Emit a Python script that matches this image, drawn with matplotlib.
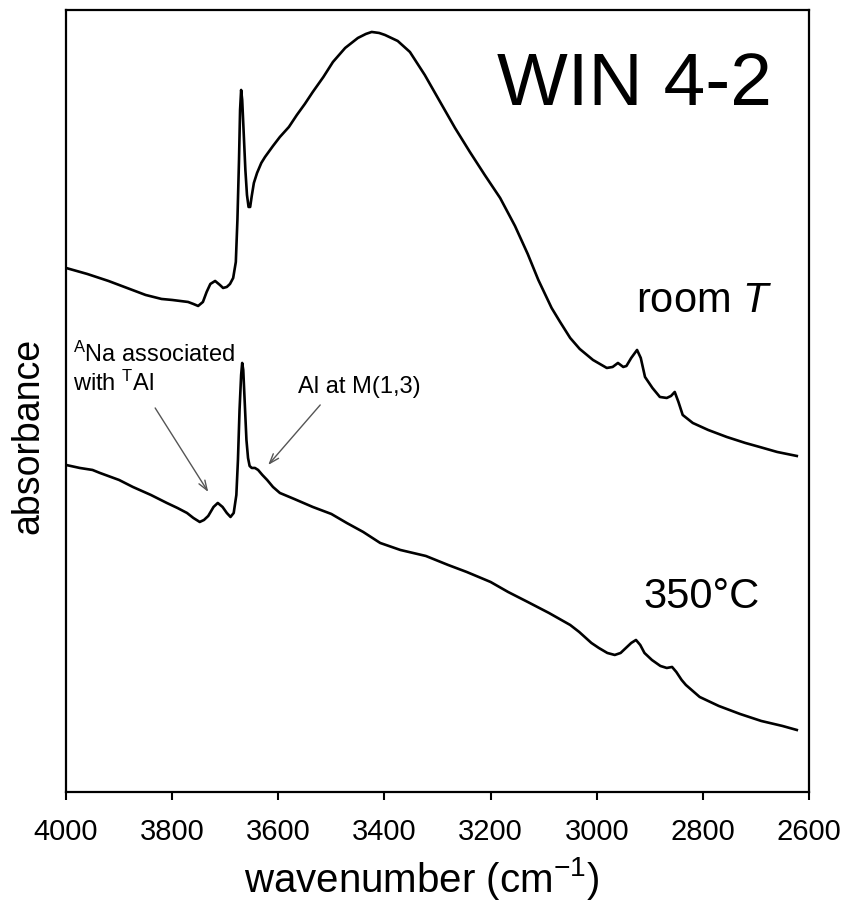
import numpy as np
import matplotlib
matplotlib.use("Agg")
import matplotlib.pyplot as plt

plt.rcParams["font.family"] = ["Liberation Sans", "DejaVu Sans"]
plt.rcParams["mathtext.fontset"] = "custom"
plt.rcParams["mathtext.rm"] = "Liberation Sans"
plt.rcParams["mathtext.it"] = "Liberation Sans:italic"

### DATA (absorbance in arbitrary units)
wn_room = [4000, 3960, 3920, 3880, 3850, 3820, 3800, 3785, 3770, 3760, 3751, 3742,
           3735, 3728, 3719, 3710, 3704, 3697, 3691, 3685, 3680, 3677, 3674, 3672,
           3670, 3668, 3665, 3662, 3659, 3656, 3653, 3650, 3646, 3640, 3632, 3625,
           3610, 3597, 3580, 3565, 3550, 3535, 3515, 3497, 3474, 3450, 3435, 3424,
           3410, 3399, 3375, 3352, 3324, 3295, 3267, 3239, 3211, 3182, 3154, 3130,
           3110, 3085, 3069, 3050, 3032, 3007, 2981, 2970, 2960, 2950, 2944, 2935,
           2924, 2917, 2909, 2895, 2881, 2868, 2860, 2853, 2846, 2838, 2819, 2790,
           2755, 2720, 2693, 2660, 2623]
abs_room = [5.24, 5.18, 5.11, 5.03, 4.97, 4.93, 4.92, 4.91, 4.90, 4.88, 4.86, 4.90,
            5.00, 5.08, 5.11, 5.07, 5.04, 5.05, 5.08, 5.14, 5.30, 5.72, 6.32, 6.82,
            7.02, 6.92, 6.57, 6.22, 5.97, 5.85, 5.85, 5.96, 6.09, 6.19, 6.29, 6.35,
            6.46, 6.55, 6.65, 6.77, 6.88, 7.00, 7.15, 7.30, 7.44, 7.54, 7.58, 7.60,
            7.59, 7.57, 7.51, 7.40, 7.17, 6.90, 6.64, 6.40, 6.17, 5.94, 5.66, 5.38,
            5.12, 4.84, 4.70, 4.54, 4.43, 4.32, 4.24, 4.25, 4.29, 4.25, 4.26, 4.34,
            4.42, 4.34, 4.15, 4.04, 3.95, 3.94, 3.96, 4.00, 3.90, 3.77, 3.69, 3.62,
            3.55, 3.49, 3.45, 3.40, 3.36]

wn_350 = [4000, 3974, 3950, 3936, 3900, 3874, 3840, 3810, 3790, 3772, 3760, 3748,
          3740, 3732, 3722, 3714, 3705, 3697, 3690, 3684, 3679, 3676, 3673, 3670,
          3668, 3666, 3663, 3660, 3657, 3654, 3650, 3644, 3638, 3630, 3621, 3610,
          3597, 3570, 3535, 3500, 3471, 3440, 3408, 3370, 3322, 3280, 3245, 3200,
          3167, 3130, 3090, 3050, 3033, 3010, 2996, 2980, 2966, 2955, 2945, 2935,
          2926, 2918, 2910, 2896, 2880, 2868, 2858, 2850, 2840, 2832, 2806, 2770,
          2730, 2690, 2650, 2623]
abs_350 = [3.27, 3.24, 3.22, 3.19, 3.12, 3.05, 2.97, 2.89, 2.84, 2.79, 2.74, 2.70,
           2.72, 2.76, 2.85, 2.89, 2.85, 2.79, 2.75, 2.79, 2.97, 3.32, 3.82, 4.17,
           4.29, 4.22, 3.87, 3.52, 3.34, 3.26, 3.24, 3.24, 3.22, 3.17, 3.12, 3.05,
           2.99, 2.93, 2.85, 2.78, 2.69, 2.60, 2.49, 2.42, 2.36, 2.27, 2.20, 2.10,
           2.00, 1.90, 1.79, 1.67, 1.60, 1.49, 1.44, 1.39, 1.37, 1.39, 1.44, 1.49,
           1.52, 1.47, 1.39, 1.32, 1.26, 1.24, 1.25, 1.20, 1.12, 1.07, 0.95, 0.86,
           0.78, 0.71, 0.66, 0.62]

x_ticks = [4000, 3800, 3600, 3400, 3200, 3000, 2800, 2600]

#PLOT STUFF
lwd = 1.9
fs_tick = 21
fs_lab = 29
fs_cond = 30
fs_note = 17

fig = plt.figure(figsize=(8.45, 9.05), dpi=100)
ax = fig.add_axes([0.0781, 0.1249, 0.8793, 0.8641])

### SPECTRA
ax.plot(wn_room, abs_room, color="black", lw=lwd)
ax.plot(wn_350, abs_350, color="black", lw=lwd)

### AXES MAKEUP
ax.set_xlim(4000, 2600)
ax.set_ylim(0, 7.82)
ax.set_xticks(x_ticks)
ax.set_xticklabels([str(t) for t in x_ticks])
ax.set_yticks([])
ax.tick_params(axis="x", direction="out", length=6, width=1.5, pad=13,
               labelsize=fs_tick)
for sp in ax.spines.values():
    sp.set_linewidth(1.6)

ax.set_xlabel("wavenumber (cm$^{-1}$)", fontsize=fs_lab)
ax.xaxis.set_label_coords(0.478, -0.081)
ax.set_ylabel("absorbance", fontsize=27)
ax.yaxis.set_label_coords(-0.026, 0.455)

### LABELS
ax.text(2670, 6.87, "WIN 4-2", fontsize=54, ha="right", va="baseline")
ax.text(2670, 4.80, "room $\\it{T}$", fontsize=fs_cond, ha="right", va="baseline")
ax.text(2692, 1.84, "350°C", fontsize=fs_cond, ha="right", va="baseline")

### ANNOTATIONS
ax.text(3987, 4.30, "${}^{\\mathrm{A}}$Na associated", fontsize=fs_note,
        ha="left", va="baseline")
ax.text(3987, 4.01, "with ${}^{\\mathrm{T}}$Al", fontsize=fs_note,
        ha="left", va="baseline")
ax.text(3563, 3.99, "Al at M(1,3)", fontsize=fs_note, ha="left", va="baseline")

arrow_props = dict(arrowstyle="->,head_length=0.7,head_width=0.25",
                   color="#555555", lw=1.0, shrinkA=0, shrinkB=0)
ax.annotate("", xy=(3732, 3.00), xytext=(3832, 3.84), arrowprops=arrow_props)
ax.annotate("", xy=(3619, 3.27), xytext=(3521, 3.87), arrowprops=arrow_props)

plt.savefig("out.png", dpi=100)
